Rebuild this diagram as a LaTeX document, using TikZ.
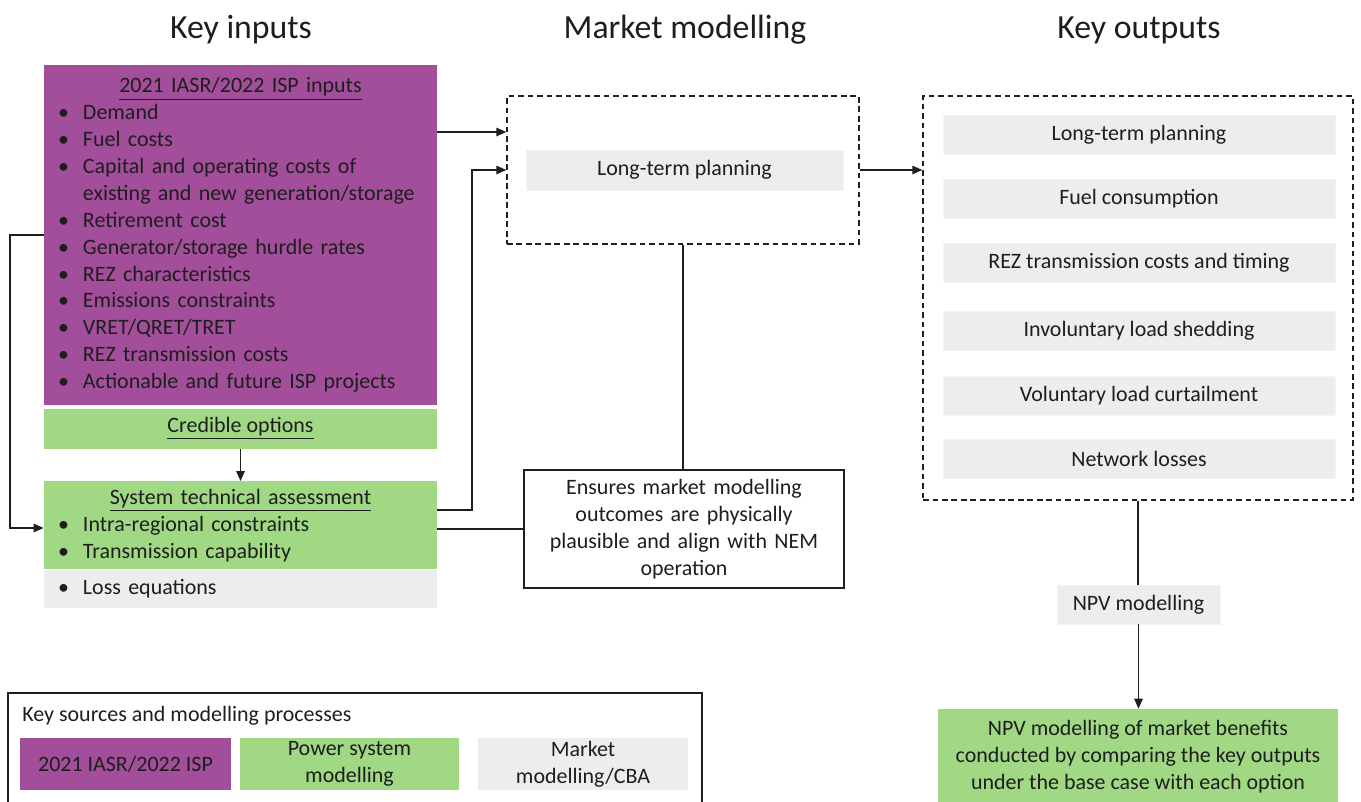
\documentclass[tikz,border=0pt]{standalone}
\usepackage{fontspec}
\setmainfont{Carlito}
\usepackage{xcolor}
\usetikzlibrary{arrows.meta,positioning,calc}
\definecolor{ispurple}{RGB}{163,78,154}
\definecolor{psgreen}{RGB}{161,216,132}
\definecolor{mmgrey}{RGB}{237,237,240}
\definecolor{inkgrey}{RGB}{30,30,30}
\newcommand\bul{\makebox[0.42cm][l]{\hspace{-0.08cm}\textbullet}}

\begin{document}
\begin{tikzpicture}[
    font=\fontsize{12.5}{15.3}\selectfont, text=inkgrey,
    >={Triangle[length=2mm,width=1.7mm]},
    conn/.style={line width=0.8pt, inkgrey},
    dashbox/.style={draw=inkgrey, line width=0.8pt, dash pattern=on 3.2pt off 2.2pt},
    greybox/.style={fill=mmgrey, draw=mmgrey!60!white, minimum height=0.78cm, inner sep=0pt},
    listbox/.style={text width=7.14cm, inner xsep=0.36cm, inner ysep=0pt, align=left},
    heading/.style={font=\fontsize{19.2}{23}\selectfont}]
    \useasboundingbox (0,0) rectangle (27.22,-16.02);

    % column headings
    \node[heading] (tin) at (4.82,-0.60) {Key inputs};
    \node[heading] (tmm) at (13.70,-0.60) {Market modelling};
    \node[heading] (tout) at (22.78,-0.60) {Key outputs};

    % key inputs
    \node[listbox, fill=ispurple, minimum height=6.8cm] (isp) at (4.81,-4.70) {%
        \makebox[\hsize]{\underline{2021 IASR/2022 ISP inputs}}\\
        \bul Demand\\
        \bul Fuel costs\\
        \bul Capital and operating costs of\\
        \hspace*{0.42cm}existing and new generation/storage\\
        \bul Retirement cost\\
        \bul Generator/storage hurdle rates\\
        \bul REZ characteristics\\
        \bul Emissions constraints\\
        \bul VRET/QRET/TRET\\
        \bul REZ transmission costs\\
        \bul Actionable and future ISP projects};
    \node[fill=psgreen, minimum width=7.86cm, minimum height=0.8cm, inner sep=0pt,
        below=0.06cm of isp] (cred) {\underline{Credible options}};
    \node[listbox, fill=psgreen, minimum height=1.76cm, below=0.64cm of cred] (sta) {%
        \makebox[\hsize]{\underline{System technical assessment}}\\
        \bul Intra-regional constraints\\
        \bul Transmission capability};
    \node[listbox, fill=mmgrey, minimum height=0.76cm, below=0pt of sta] (loss) {\bul Loss equations};

    % market modelling
    \node[dashbox, minimum width=7.04cm, minimum height=2.96cm] (mkt) at (13.66,-3.40) {};
    \node[greybox, minimum width=6.34cm, minimum height=0.8cm] (ltp) at (13.69,-3.40) {Long-term planning};
    \node[draw=inkgrey, line width=0.8pt, text width=6.0cm, inner xsep=0.2cm,
        minimum height=2.36cm, align=center] (ens) at (13.68,-10.58)
        {Ensures market modelling\\outcomes are physically\\plausible and align with NEM\\operation};

    % key outputs
    \node[dashbox, minimum width=8.60cm, minimum height=8.08cm] (out) at (22.76,-5.96) {};
    \foreach \txt/\yy [count=\i] in {Long-term planning/-2.70, Fuel consumption/-3.98,
        REZ transmission costs and timing/-5.26, Involuntary load shedding/-6.62,
        Voluntary load curtailment/-7.92, Network losses/-9.18}
        \node[greybox, minimum width=7.84cm] (o\i) at (22.78,\yy) {\txt};
    \node[greybox, minimum width=3.26cm] (npv) at (22.77,-12.09) {NPV modelling};
    \node[fill=psgreen, minimum width=8.0cm, minimum height=1.92cm, align=center,
        inner sep=0pt] (res) at (22.76,-15.14)
        {NPV modelling of market benefits\\conducted by comparing the key outputs\\under the base case with each option};

    % legend
    \node[draw=inkgrey, line width=0.8pt, minimum width=13.88cm, minimum height=2.4cm] (leg) at (7.10,-15.06) {};
    \node[anchor=west, inner sep=0pt] (legt) at (0.44,-14.32) {Key sources and modelling processes};
    \node[fill=ispurple, minimum width=4.22cm, minimum height=1.04cm, inner sep=0pt] (legisp) at (2.51,-15.28) {2021 IASR/2022 ISP};
    \node[fill=psgreen, minimum width=4.38cm, minimum height=1.04cm, inner sep=0pt, align=center] (legps) at (6.99,-15.28) {Power system\\modelling};
    \node[fill=mmgrey, minimum width=4.20cm, minimum height=1.04cm, inner sep=0pt, align=center] (legmm) at (11.66,-15.28) {Market\\modelling/CBA};

    % connectors
    \draw[conn, ->] (cred) -- (sta);
    \draw[conn, ->] (isp.west) -| (0.20,-10.56) -- (sta.west |- 0,-10.56);
    \draw[conn, ->] (isp.east |- 0,-2.64) -- (mkt.west |- 0,-2.64);
    \draw[conn, ->] (sta.east |- 0,-10.20) -| (9.44,-3.40) -- (mkt.west);
    \draw[conn] (ens.west -| sta.east) -- (ens.west);
    \draw[conn] (mkt.south) -- (mkt.south |- ens.north);
    \draw[conn, ->] (mkt.east) -- (mkt.east -| out.west);
    \draw[conn] (out.south) -- (out.south |- npv.north);
    \draw[conn, ->] (npv) -- (npv.south |- res.north);
\end{tikzpicture}
\end{document}
